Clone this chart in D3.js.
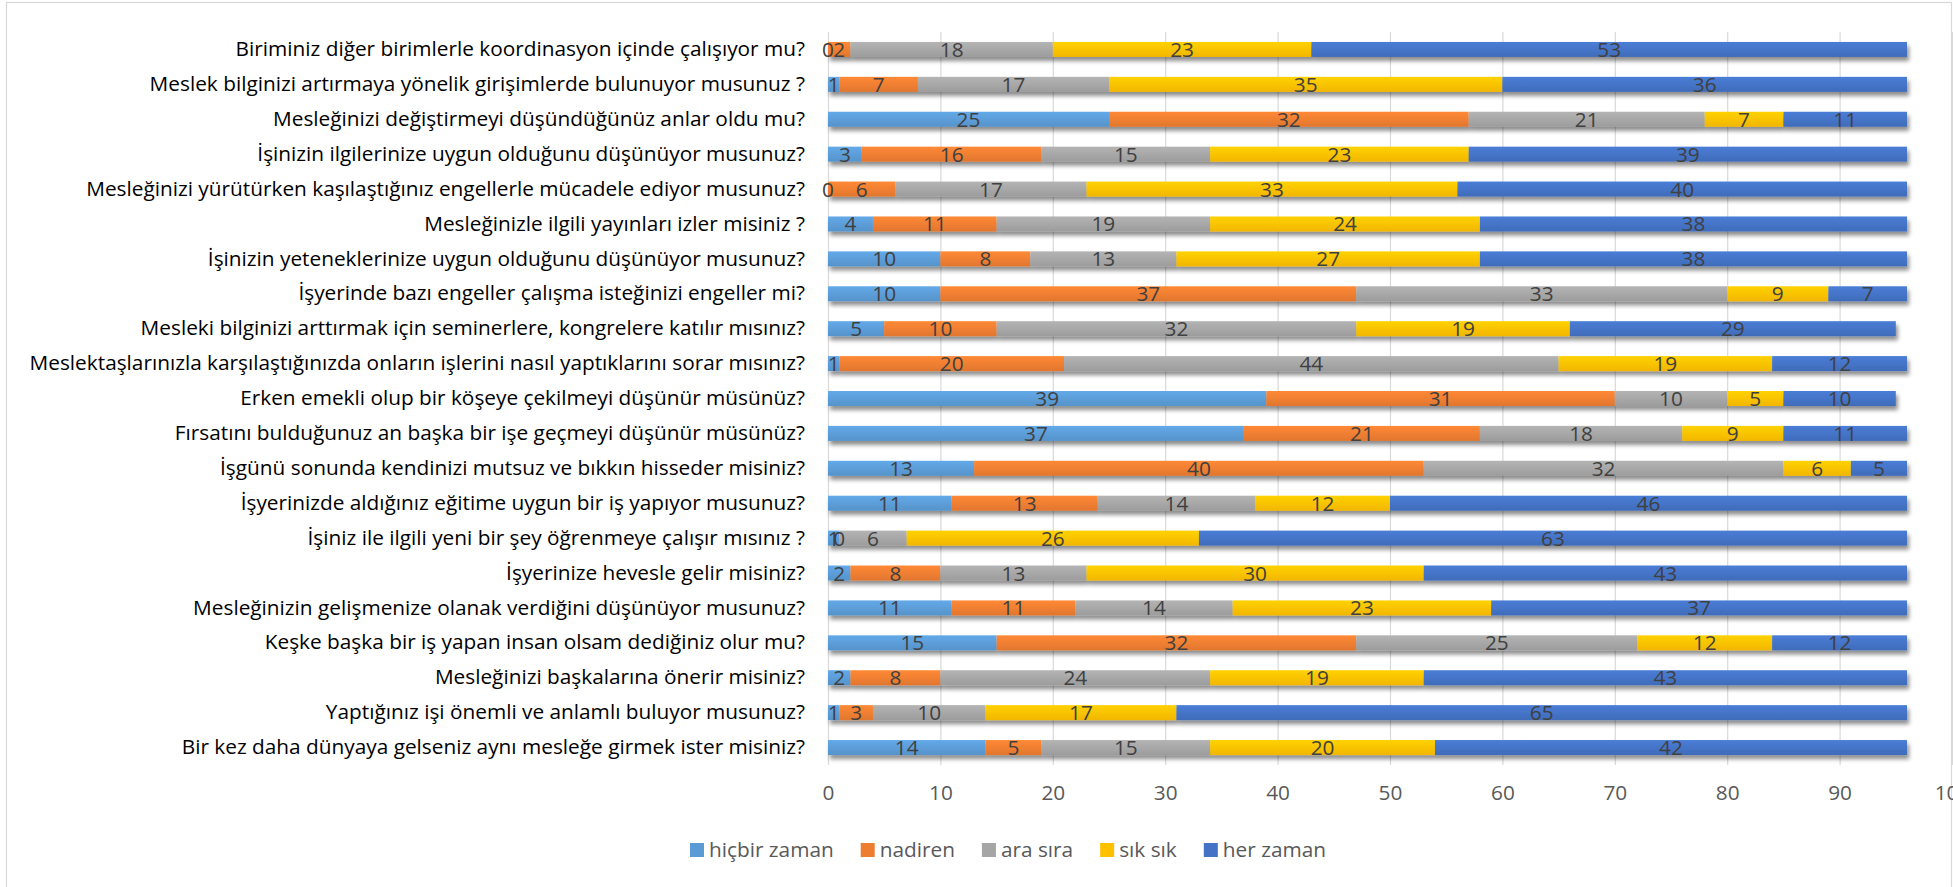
<!DOCTYPE html>
<html>
<head>
<meta charset="utf-8">
<script src="https://cdn.jsdelivr.net/npm/d3@7"></script>
<style>
  html, body { margin: 0; padding: 0; background: #fff; }
  svg { display: block; }
</style>
</head>
<body>
<div id="chart"></div>
<script>
// Survey questions, top to bottom
const questions = [
  "Biriminiz diğer birimlerle koordinasyon içinde çalışıyor mu?",
  "Meslek bilginizi artırmaya yönelik girişimlerde bulunuyor musunuz ?",
  "Mesleğinizi değiştirmeyi düşündüğünüz anlar oldu mu?",
  "İşinizin ilgilerinize uygun olduğunu düşünüyor musunuz?",
  "Mesleğinizi yürütürken kaşılaştığınız engellerle mücadele ediyor musunuz?",
  "Mesleğinizle ilgili yayınları izler misiniz ?",
  "İşinizin yeteneklerinize uygun olduğunu düşünüyor musunuz?",
  "İşyerinde bazı engeller çalışma isteğinizi engeller mi?",
  "Mesleki bilginizi arttırmak için seminerlere, kongrelere katılır mısınız?",
  "Meslektaşlarınızla karşılaştığınızda onların işlerini nasıl yaptıklarını sorar mısınız?",
  "Erken emekli olup bir köşeye çekilmeyi düşünür müsünüz?",
  "Fırsatını bulduğunuz an başka bir işe geçmeyi düşünür müsünüz?",
  "İşgünü sonunda kendinizi mutsuz ve bıkkın hisseder misiniz?",
  "İşyerinizde aldığınız eğitime uygun bir iş yapıyor musunuz?",
  "İşiniz ile ilgili yeni bir şey öğrenmeye çalışır mısınız ?",
  "İşyerinize hevesle gelir misiniz?",
  "Mesleğinizin gelişmenize olanak verdiğini düşünüyor musunuz?",
  "Keşke başka bir iş yapan insan olsam dediğiniz olur mu?",
  "Mesleğinizi başkalarına önerir misiniz?",
  "Yaptığınız işi önemli ve anlamlı buluyor musunuz?",
  "Bir kez daha dünyaya gelseniz aynı mesleğe girmek ister misiniz?"
];

// Answer categories (legend order)
const seriesNames = ["hiçbir zaman", "nadiren", "ara sıra", "sık sık", "her zaman"];
const seriesColors = ["#5B9BD5", "#ED7D31", "#A5A5A5", "#FFC000", "#4472C4"];

// Counts per answer, one entry per question (same order as questions)
const hicbirZaman = [0, 1, 25, 3, 0, 4, 10, 10, 5, 1, 39, 37, 13, 11, 1, 2, 11, 15, 2, 1, 14];
const nadiren     = [2, 7, 32, 16, 6, 11, 8, 37, 10, 20, 31, 21, 40, 13, 0, 8, 11, 32, 8, 3, 5];
const araSira     = [18, 17, 21, 15, 17, 19, 13, 33, 32, 44, 10, 18, 32, 14, 6, 13, 14, 25, 24, 10, 15];
const sikSik      = [23, 35, 7, 23, 33, 24, 27, 9, 19, 19, 5, 9, 6, 12, 26, 30, 23, 12, 19, 17, 20];
const herZaman    = [53, 36, 11, 39, 40, 38, 38, 7, 29, 12, 10, 11, 5, 46, 63, 43, 37, 12, 43, 65, 42];

const xTicks = [0, 10, 20, 30, 40, 50, 60, 70, 80, 90, 100];

const seriesValues = [hicbirZaman, nadiren, araSira, sikSik, herZaman];
const rows = questions.map((q, i) => {
  const r = { q };
  seriesNames.forEach((s, k) => { r[s] = seriesValues[k][i]; });
  return r;
});

const W = 1953, H = 887;
const FONT = "'Open Sans', Lato, sans-serif";
const FS = 20.8;

const svg = d3.select("#chart").append("svg")
  .attr("width", W).attr("height", H)
  .style("font-family", FONT);

const defs = svg.append("defs");
const shadow = defs.append("filter").attr("id", "barShadow")
  .attr("x", "-5%").attr("y", "-30%").attr("width", "110%").attr("height", "190%");
shadow.append("feGaussianBlur").attr("in", "SourceAlpha").attr("stdDeviation", 2.2).attr("result", "b");
shadow.append("feOffset").attr("in", "b").attr("dx", 2).attr("dy", 4).attr("result", "o");
shadow.append("feComponentTransfer").attr("in", "o").attr("result", "s")
  .append("feFuncA").attr("type", "linear").attr("slope", 0.45);
const merge = shadow.append("feMerge");
merge.append("feMergeNode").attr("in", "s");
merge.append("feMergeNode").attr("in", "SourceGraphic");

seriesColors.forEach((c, k) => {
  const g = defs.append("linearGradient").attr("id", "grad" + k)
    .attr("x1", 0).attr("y1", 0).attr("x2", 0).attr("y2", 1);
  g.append("stop").attr("offset", "0%").attr("stop-color", d3.color(c).brighter(0.25));
  g.append("stop").attr("offset", "100%").attr("stop-color", d3.color(c).darker(0.15));
});

// Chart frame
svg.append("rect")
  .attr("x", 6.5).attr("y", 2.5).attr("width", W - 8).attr("height", H + 10)
  .attr("fill", "none").attr("stroke", "#d9d9d9").attr("stroke-width", 1.2);

const x = d3.scaleLinear().domain([0, 100]).range([828, 1952]);
const y = d3.scaleBand().domain(questions).range([32, 765])
  .paddingInner(0.57).paddingOuter(0.285);

// Vertical gridlines
svg.append("g").selectAll("line").data(xTicks).join("line")
  .attr("x1", d => x(d) + 0.5).attr("x2", d => x(d) + 0.5)
  .attr("y1", 32).attr("y2", 765)
  .attr("stroke", "#d9d9d9").attr("stroke-width", 1.2);

// X axis labels
const xAxis = d3.axisBottom(x).tickValues(xTicks).tickSize(0).tickPadding(0);
const xg = svg.append("g").attr("transform", "translate(0,785)").call(xAxis);
xg.select(".domain").remove();
xg.selectAll("text").attr("font-family", FONT).attr("font-size", FS)
  .attr("fill", "#595959").attr("dy", "0.71em");

// Category labels
const yAxis = d3.axisLeft(y).tickSize(0).tickPadding(0);
const yg = svg.append("g").attr("transform", "translate(805,0)").call(yAxis);
yg.select(".domain").remove();
yg.selectAll("text").attr("font-family", FONT).attr("font-size", FS)
  .attr("fill", "#000");

// Stacked bars
const stack = d3.stack().keys(seriesNames);
const stacked = stack(rows);

const barsG = svg.append("g").attr("filter", "url(#barShadow)");
stacked.forEach((layer, k) => {
  barsG.selectAll(".s" + k).data(layer).join("rect")
    .attr("class", "s" + k)
    .attr("x", d => x(d[0]))
    .attr("width", d => x(d[1]) - x(d[0]))
    .attr("y", d => y(d.data.q))
    .attr("height", y.bandwidth())
    .attr("fill", `url(#grad${k})`);
});

// Value labels centred on each segment
const labelsG = svg.append("g");
stacked.forEach((layer, k) => {
  labelsG.selectAll(".l" + k).data(layer).join("text")
    .attr("class", "l" + k)
    .attr("x", d => (x(d[0]) + x(d[1])) / 2)
    .attr("y", d => y(d.data.q) + y.bandwidth() / 2)
    .attr("dy", "0.36em")
    .attr("text-anchor", "middle")
    .attr("font-size", FS)
    .attr("fill", "#404040")
    .text(d => d[1] - d[0]);
});

// Legend
const legend = svg.append("g").attr("transform", "translate(0,850)");
const items = legend.selectAll("g").data(seriesNames).join("g");
items.append("rect").attr("width", 14).attr("height", 14).attr("y", -7)
  .attr("fill", (d, k) => seriesColors[k]);
items.append("text").attr("x", 19).attr("dy", "0.35em")
  .attr("font-size", FS).attr("fill", "#595959").text(d => d);
let widths = [];
items.each(function() { widths.push(this.getBBox().width); });
const gap = 27;
const total = d3.sum(widths) + gap * (widths.length - 1);
let cx = 1008 - total / 2;
items.each(function(d, i) {
  d3.select(this).attr("transform", `translate(${cx},0)`);
  cx += widths[i] + gap;
});
</script>
</body>
</html>
